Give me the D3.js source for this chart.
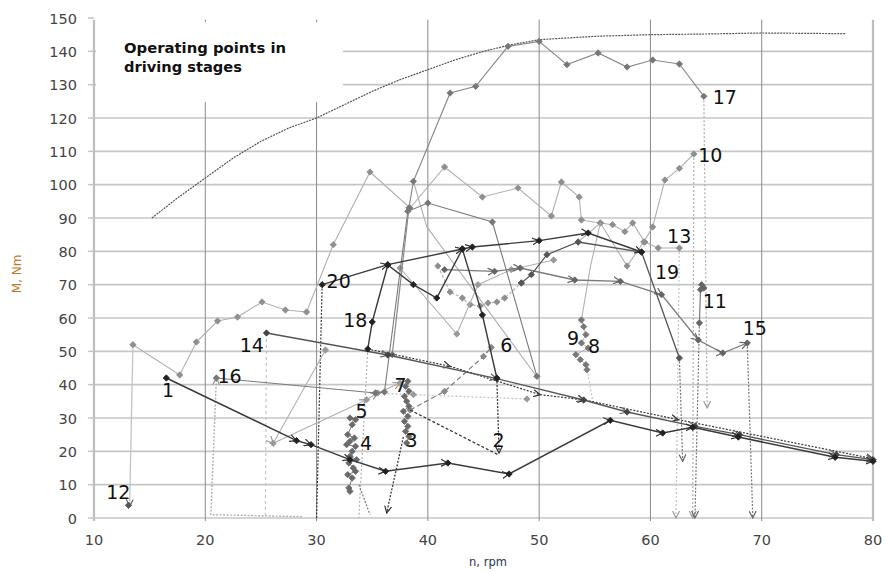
<!DOCTYPE html>
<html><head><meta charset="utf-8">
<script src="https://cdn.jsdelivr.net/npm/d3@7"></script>
<style>body{margin:0;background:#fff}svg{display:block}</style>
</head><body>
<svg id="c" width="885" height="572"></svg>
<script>
// ---- data ----
const xTicks = [10,20,30,40,50,60,70,80];
const yTicks = [0,10,20,30,40,50,60,70,80,90,100,110,120,130,140,150];
const envelope = [[15.2,90],[17.5,96],[20,102],[22.5,108],[25,113],[27.5,117],[30,120],[32.5,124],[35,128],[37.5,131.5],[40,134.5],[42.5,137.5],[45,140],[47.5,142],[50,143.5],[55,144.5],[60,145],[65,145.2],[70,145.5],[77.5,145.3]];
const s1 = [[16.5,42],[28.2,23.2],[29.5,22],[33,17.5],[36.2,14],[41.8,16.5],[47.3,13.2],[56.4,29.3],[61.1,25.5],[63.8,27.2],[67.9,24.3],[76.6,18.2],[80,17]];
const s2 = [[34.6,50.7],[35,58.8],[36.4,75.9],[38.7,70],[40.8,66],[43.1,80.7],[44.9,60.9],[46.2,42]];
const s2drop = [[46.2,42],[46.4,19.5]];
const s3 = [[38.4,32.4],[46.3,19]];
const s3drop = [[37.8,24.3],[36.3,1.5]];
const s3cluster = [[38.2,41],[38,39.5],[38.3,38],[37.9,36.5],[38.1,35],[38.3,33.5],[37.8,32],[38.2,30.5],[37.9,29],[38.2,27.5],[38,26],[38.3,24.5],[38.1,22.5]];
const s4cluster = [[33,30],[33.5,29.5],[33.2,28],[32.8,25],[33.4,24],[33,23],[32.7,22],[33.5,21.5],[33.2,20],[33,18.5],[33.6,17.5],[32.9,16.5],[33.3,15],[33.5,14],[32.8,13],[33.2,12],[32.9,9],[33,8]];
const s4drop = [[33.8,10],[34.8,1]];
const s5 = [[30.8,50.4],[26.1,22.4],[34.5,35.5],[35.5,37.5],[37.5,40.5]];
const s6 = [[38.4,32.4],[41.5,38],[45,48.5],[45.7,51.2]];
const s7 = [[35.3,37.5],[38.7,37],[48.9,35.7]];
const s8 = [[53.8,59.4],[54,57.4],[54.2,55],[53.8,52.5],[54.4,51],[53.3,49],[53.7,47.5],[54.2,46],[54.3,44.5]];
const s8drop = [[54.3,44.5],[54.8,35.4]];
const s9 = [[53.8,59.4],[54.6,75.3],[55.5,88.5]];
const s10 = [[53.5,82.8],[55.5,88.5],[57.9,75.6],[59.4,82.8],[60.2,87.3],[61.3,101.4],[62.6,104.9],[63.9,109.2]];
const s10drop = [[63.9,109.2],[63.8,0]];
const s11 = [[64.6,70],[64.8,69],[64.5,68.5],[64.4,58.5]];
const s11drop = [[64.4,58.5],[64,0]];
const s12 = [[13.5,52],[13.2,3.5]];
const s12point = [[13.1,3.8]];
const s13 = [[13.5,52],[17.7,42.9],[19.2,52.8],[21.1,59.1],[22.9,60.3],[25.1,64.8],[27.2,62.4],[29.1,61.8],[31.5,82],[34.8,103.8],[38.4,93],[41.5,105.3],[44.9,96.3],[48.1,99],[51.1,90.6],[52,100.8],[53.6,96.3],[53.8,89.4],[55.5,88.5],[56.6,88],[57.7,85.9],[58.4,88.5],[59.5,82.8],[60.7,81],[62.6,81]];
const s13drop = [[62.6,81],[62.3,0]];
const s14 = [[25.5,55.5],[36.4,48.9],[46.2,41.8],[54,35.4],[57.9,31.8],[64,27.5],[68,25],[76.7,19],[80,17.5]];
const s14drop = [[25.5,55.5],[25.4,0]];
const s15 = [[41.5,74.5],[46,74],[48.3,75],[53.2,71.4],[57.3,71],[61,67],[64.3,53.4],[66.5,49.5],[68.7,52.5]];
const s15drop = [[68.7,52.5],[69.2,0]];
const s16 = [[21,42],[35.3,37.5],[36.1,37.8],[38.2,92],[40,94.5],[45.8,88.8],[49.8,42.5]];
const s16drop = [[28.7,0.4],[20.5,1],[21,42]];
const s17 = [[36.8,49],[38.3,93],[38.7,101],[42,127.5],[44.3,129.5],[47.2,141.5],[50,143],[52.5,136],[55.3,139.5],[57.9,135.3],[60.2,137.4],[62.6,136.2],[64.8,126.5]];
const s17drop = [[64.8,126.5],[65.1,33]];
const s18 = [[34.6,50.7],[42,45.5],[50.1,37],[54.1,35.4],[62.5,29.5],[80,17.8]];
const s18drop = [[34.6,50.7],[33.8,0]];
const s19 = [[48.4,70.5],[49.3,73],[50.7,79],[53.5,82.8],[59.2,79.8],[62.6,48]];
const s19drop = [[62.6,48],[62.9,17]];
const s20 = [[30.5,70],[36.4,76],[43.1,80.7],[44,81.3],[50,83.2],[54.4,85.5],[59.2,79.8]];
const s20drop = [[30,0],[30.5,70]];
const sA = [[40.9,75.6],[42,67.8],[43.1,66],[43.8,64],[44.7,63.6],[45.4,64.5],[46.2,64.8],[46.9,66],[48.4,70.5]];
const sB = [[37.5,75],[42.6,55.2],[44.5,70],[47.5,74.5],[51.3,77.4]];
const sC = [[38.7,101],[39.9,87.4],[49.8,42.3]];
const labelNames = ["1","2","3","4","5","6","7","8","9","10","11","12","13","14","15","16","17","18","19","20"];
const labelX = [16.1,45.8,38,33.9,33.5,46.5,37,54.4,52.5,64.3,64.7,11.1,61.5,23.1,68.3,21.1,65.6,32.4,60.4,30.9];
const labelY = [36.3,21.3,21.3,20.4,30,49.8,37.8,49.5,51.9,106.8,63,5.7,82.5,49.8,54.9,40.5,124.2,57.3,71.7,69];
const titleLines = ["Operating points in","driving stages"];

// ---- drawing ----
const svg = d3.select("#c");
const x = d3.scaleLinear().domain([10,80]).range([94,873]);
const y = d3.scaleLinear().domain([0,150]).range([518,18]);
const line = d3.line().x(d=>x(d[0])).y(d=>y(d[1]));

const defs = svg.append("defs");
function arrowMarker(id,color){
  defs.append("marker").attr("id",id).attr("viewBox","0 0 8 8").attr("refX",7).attr("refY",4)
    .attr("markerWidth",8).attr("markerHeight",8).attr("markerUnits","userSpaceOnUse").attr("orient","auto")
    .append("path").attr("d","M0,0.5 L7,4 L0,7.5").attr("fill","none").attr("stroke",color).attr("stroke-width",1.2);
}
arrowMarker("aD","#333"); arrowMarker("aM","#666"); arrowMarker("aL","#999");

// grid
const g = svg.append("g");
g.selectAll(".hg").data(yTicks.filter(v=>v<150)).join("line")
  .attr("x1",x(10)).attr("x2",x(80)).attr("y1",d=>y(d)).attr("y2",d=>y(d))
  .attr("stroke","#c6c6c6").attr("stroke-width",1.6);
g.selectAll(".vg").data(xTicks.filter(v=>v>10&&v<80)).join("line")
  .attr("x1",d=>x(d)).attr("x2",d=>x(d)).attr("y1",y(0)+3).attr("y2",y(149.5))
  .attr("stroke","#8a8a8a").attr("stroke-width",1);
g.append("line").attr("x1",x(10)).attr("x2",x(10)).attr("y1",y(0)+3).attr("y2",y(149.5)).attr("stroke","#bdbdbd").attr("stroke-width",2.2);
g.append("line").attr("x1",x(80)).attr("x2",x(80)).attr("y1",y(0)+3).attr("y2",y(149.5)).attr("stroke","#bdbdbd").attr("stroke-width",2.2);
g.selectAll(".yt").data(yTicks).join("line").attr("x1",x(10)-6).attr("x2",x(10)).attr("y1",d=>y(d)).attr("y2",d=>y(d)).attr("stroke","#c6c6c6").attr("stroke-width",1.5);
// title box
svg.append("rect").attr("x",96).attr("y",22).attr("width",247).attr("height",80).attr("fill","#fff");
svg.append("text").attr("font-family","DejaVu Sans").attr("font-weight","bold").attr("font-size",14).attr("fill","#111")
  .selectAll("tspan").data(titleLines).join("tspan").attr("x",124).attr("y",(d,i)=>i?72:53)
  .attr("textLength",(d,i)=>i?118:162).attr("lengthAdjust","spacingAndGlyphs").text(d=>d);

// tick labels
svg.selectAll(".yl").data(yTicks).join("text").attr("x",77).attr("y",d=>y(d)+5.5).attr("text-anchor","end")
  .attr("font-family","DejaVu Sans").attr("font-size",14.5).attr("fill","#444").text(d=>d);
svg.selectAll(".xl").data(xTicks).join("text").attr("x",d=>x(d)).attr("y",545).attr("text-anchor","middle")
  .attr("font-family","DejaVu Sans").attr("font-size",14.5).attr("fill","#444").text(d=>d);
svg.append("text").attr("x",488).attr("y",566).attr("text-anchor","middle").attr("font-family","DejaVu Sans").attr("font-size",11.5).attr("fill","#2a3550").text("n, rpm");
svg.append("text").attr("transform","translate(21,274) rotate(-90)").attr("text-anchor","middle").attr("font-family","DejaVu Sans").attr("font-size",12).attr("fill","#c07a2c").text("M, Nm");

// envelope
svg.append("path").attr("d",line(envelope)).attr("fill","none").attr("stroke","#555").attr("stroke-width",1.2).attr("stroke-dasharray","2,1");

const P = svg.append("g");
function path(data,color,w,dash,arrowId,mid){
  const p = P.append("path").attr("d",line(data)).attr("fill","none").attr("stroke",color).attr("stroke-width",w);
  if(dash) p.attr("stroke-dasharray",dash);
  if(arrowId){ p.attr("marker-end",`url(#${arrowId})`); if(mid) p.attr("marker-mid",`url(#${arrowId})`);}
}
const sym = d3.symbol().type(d3.symbolSquare).size(20);
function marks(data,color){
  P.append("g").selectAll("path").data(data).join("path").attr("d",sym)
   .attr("transform",d=>`translate(${x(d[0])},${y(d[1])}) rotate(45)`).attr("fill",color).attr("stroke",color).attr("stroke-width",0.8);
}
const L="#b0b0b0", LL="#c4c4c4", M="#7a7a7a", D="#3a3a3a";
// drops
path(s13drop,LL,1.2,"2,2","aL");
path(s10drop,L,1.2,"2,2","aL");
path(s11drop,M,1.2,"2,1.5","aM");
path(s17drop,L,1.3,"2,2","aL");
path(s15drop,M,1.2,"2,1.5","aM");
path(s19drop,M,1.2,"2,1.5","aM");
path(s14drop,LL,1.2,"3,3");
path(s18drop,L,1.2,"2,2");
path(s20drop,D,1.2,"2,1.5");
path(s16drop,L,1.4,"2,1.5","aL");
path(s4drop,M,1.2,"2,1.5");
path(s3drop,D,1.3,"2,1.5","aD");
path(s2drop,D,1.3,"2,1.5","aD");
path(s8drop,LL,1.2,"2,2");
path(s12,LL,1.3,null,"aM"); marks(s12point,"#555");
// light series
path(s13,L,1.1); marks(s13,"#8f8f8f");
path(s10,L,1.1); marks(s10,"#8f8f8f");
path(s9,L,1.1);
path(s7,LL,1.3,"2,2"); marks(s7,"#999");
path(s5,L,1.1,null,"aL",true); marks(s5,"#999");
path(sA,L,1.2,"3,2"); marks(sA,"#8f8f8f");
path(sB,L,1.1); marks(sB,"#999");
path(sC,L,1.1);
path(s6,M,1.2,"5,3"); marks(s6,"#888");
// medium
path(s16,M,1.1); marks(s16,"#777");
path(s17,"#8a8a8a",1.2); marks(s17,"#777");
path(s15,M,1.3,null,"aM",true); marks(s15,"#666");
path(s11,M,1.2); marks(s11,"#666");
path(s8,L,1); marks(s8,"#777");
path(s4cluster,M,1); marks(s4cluster,"#6a6a6a");
path(s3cluster,M,1); marks(s3cluster,"#6a6a6a");
path(s18,D,1.2,"2,1.5","aD",true);
path(s14,"#555",1.3,null,"aM",true); marks(s14,"#444");
path(s3,D,1.3,"3,2");
// dark
path(s19,"#555",1.3); marks(s19,"#555");
path(s20,D,1.4,null,"aD",true); marks(s20,"#222");
path(s2,D,1.4); marks(s2,"#222");
path(s1,D,1.5,null,"aD",true); marks(s1,"#222");

// labels
svg.selectAll(".lab").data(labelNames).join("text").attr("x",(d,i)=>x(labelX[i])).attr("y",(d,i)=>y(labelY[i]))
  .attr("font-family","DejaVu Sans").attr("font-size",19).attr("fill","#111").text(d=>d);
</script>
</body></html>
